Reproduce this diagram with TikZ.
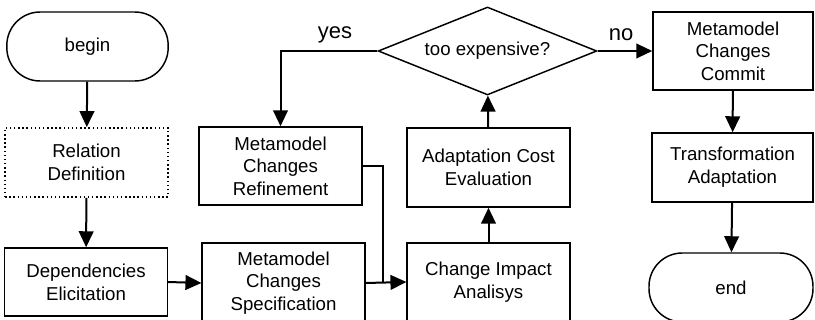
\documentclass[tikz,border=0pt]{standalone}
\usepackage{fontspec}
\setmainfont{Liberation Sans}
\usetikzlibrary{shapes.geometric,arrows.meta}
\begin{document}
\begin{tikzpicture}[x=0.75pt,y=-0.75pt,
  every node/.style={font=\fontsize{14}{17}\selectfont, align=center, inner sep=0pt},
  stepbox/.style={draw, line width=1.1pt, rectangle, minimum width=122pt},
  termbox/.style={draw, line width=1.1pt, rectangle, rounded corners=25pt, minimum width=121pt, minimum height=51.75pt},
  dotbox/.style={draw, line width=1.1pt, dotted, rectangle, minimum width=122pt, minimum height=52pt},
  decision/.style={draw, line width=1.1pt, diamond, aspect=2.5, minimum width=164pt, minimum height=66pt},
  flow/.style={line width=1.5pt, -{Triangle[length=12pt,width=11pt]}},
  link/.style={line width=1.5pt},
  branch/.style={font=\fontsize{16.5}{19}\selectfont}
]
\useasboundingbox (0,0) rectangle (815,320);
\clip (0,0) rectangle (815,320);

% left column
\node[termbox] (begin) at (87.5,46.5) {begin};
\node[dotbox] (reldef) at (86.5,162.5) {Relation\\Definition};
\node[stepbox, minimum height=51pt] (dep) at (86,282) {Dependencies\\Elicitation};

% second column
\node[stepbox, minimum height=58.5pt] (refine) at (280.5,166) {Metamodel\\Changes\\Refinement};
\node[stepbox, minimum height=60pt] (spec) at (283.5,283) {Metamodel\\Changes\\Specification};

% third column
\node[decision] (cost) at (487.5,51) {too expensive?};
\node[stepbox, minimum height=59.25pt] (eval) at (488.5,167.5) {Adaptation Cost\\Evaluation};
\node[stepbox, minimum height=58.5pt] (impact) at (488.5,282) {Change Impact\\Analisys};

% right column
\node[stepbox, minimum width=120pt, minimum height=58.5pt] (commit) at (733,51) {Metamodel\\Changes\\Commit};
\node[stepbox, minimum width=121pt, minimum height=51.75pt] (trans) at (732.5,167.5) {Transformation\\Adaptation};
\node[termbox, minimum width=123pt] (end) at (731,287.5) {end};

\coordinate (join) at (383,283);

% connectors
\draw[flow] (begin) -- (reldef);
\draw[flow] (reldef) -- (dep);
\draw[flow] (dep.east) -- (spec.west);
\draw[flow] (spec.east) -- (impact.west);
\draw[link] (refine.east) -| (join);
\draw[flow] (impact) -- (eval);
\draw[flow] (eval) -- (cost);
\draw[flow] (cost.west) -| (refine.north);
\draw[flow] (cost.east) -- (commit.west);
\draw[flow] (commit) -- (trans);
\draw[flow] (trans) -- (end);

% branch labels
\node[branch] (yes) at (335,35) {yes};
\node[branch] (no) at (621,35) {no};
\end{tikzpicture}
\end{document}
